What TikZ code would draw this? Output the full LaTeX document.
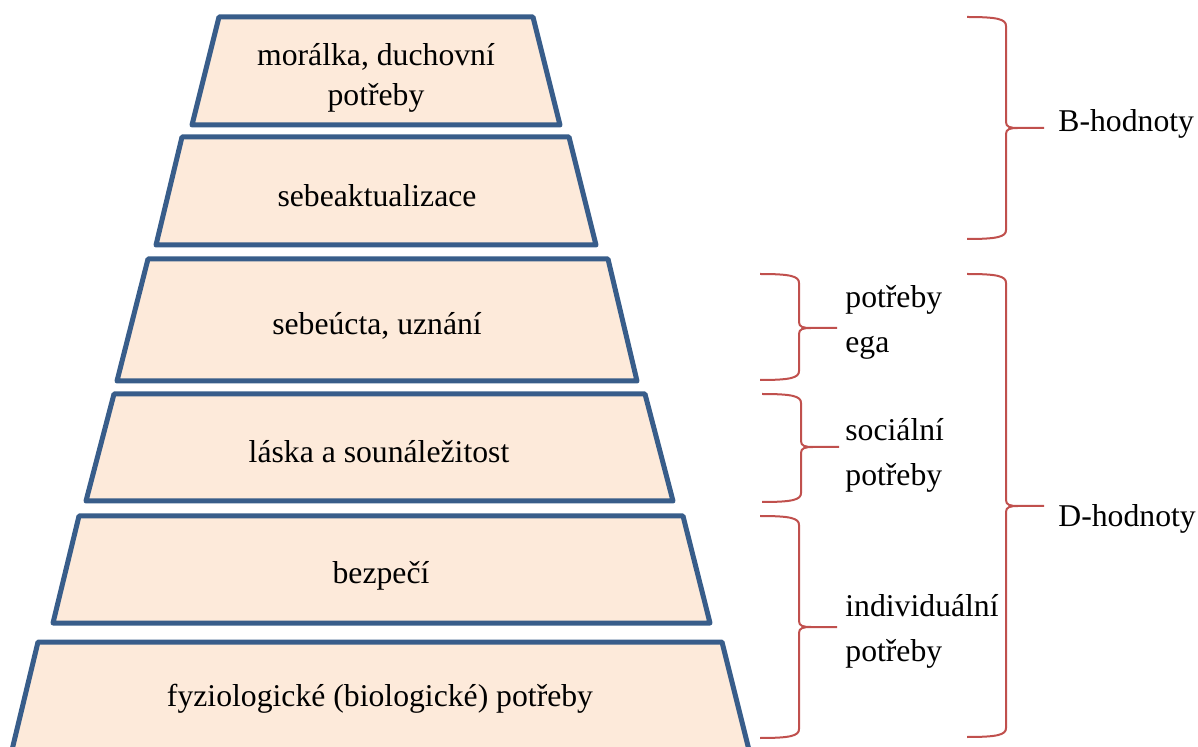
\documentclass[tikz,border=0pt]{standalone}
\usepackage{fontspec}
\setmainfont{Liberation Serif}
\definecolor{lvlfill}{HTML}{FDEADA}
\definecolor{lvldraw}{HTML}{385D8A}
\definecolor{brcred}{HTML}{C0504D}
\tikzset{
  level/.style={draw=lvldraw, fill=lvlfill, line width=2.5pt, line join=round},
  brc/.style={draw=brcred, line width=1pt},
  lbl/.style={font=\fontsize{15.85}{20}\selectfont, align=center, inner sep=0pt},
  side/.style={font=\fontsize{15.85}{22.5}\selectfont, align=left, anchor=west, inner sep=0pt}
}
% right brace: left end x, top y, tip y, bottom y
\newcommand{\rbrc}[4]{%
  \draw[brc] (#1,#2) .. controls (#1+30,#2) and (#1+39,#2+2) .. (#1+39,#2+9)
    -- (#1+39,#3-6) .. controls (#1+39,#3-1) and (#1+43,#3) .. (#1+51,#3) -- (#1+77,#3)
    -- (#1+51,#3) .. controls (#1+43,#3) and (#1+39,#3+1) .. (#1+39,#3+6)
    -- (#1+39,#4-9) .. controls (#1+39,#4-2) and (#1+30,#4) .. (#1,#4);}
\begin{document}
\begin{tikzpicture}[x=0.5pt, y=-0.5pt]
\useasboundingbox (0,0) rectangle (1198,747);
% pyramid levels
\draw[level] (219,17) -- (533,17) -- (560,125) -- (192,125) -- cycle;
\draw[level] (182,137) -- (569,137) -- (596,245) -- (156,245) -- cycle;
\draw[level] (148,259) -- (608,259) -- (637,381) -- (117,381) -- cycle;
\draw[level] (114,394) -- (645,394) -- (673,501) -- (86,501) -- cycle;
\draw[level] (79,516) -- (683,516) -- (710,623) -- (53,623) -- cycle;
\draw[level] (38,642) -- (722,642) -- (749,750) -- (12,750) -- cycle;
\node[lbl] (moral) at (376,78) {morálka, duchovní\\potřeby};
\node[lbl] (self) at (377,196) {sebeaktualizace};
\node[lbl] (esteem) at (377,326) {sebeúcta, uznání};
\node[lbl] (love) at (379,452) {láska a sounáležitost};
\node[lbl] (safe) at (381,576) {bezpečí};
\node[lbl] (phys) at (380,699) {fyziologické (biologické) potřeby};
% braces
\rbrc{760}{274}{328}{380}
\rbrc{762}{394}{447}{502}
\rbrc{760}{516}{627}{738}
\rbrc{967}{17}{128}{239}
\rbrc{967}{274}{506}{737}
\node[side] (ego) at (845,322) {potřeby\\ega};
\node[side] (soc) at (845,455) {sociální\\potřeby};
\node[side] (ind) at (845,631) {individuální\\potřeby};
\node[side] (bval) at (1058,124) {B-hodnoty};
\node[side] (dval) at (1058,519) {D-hodnoty};
\end{tikzpicture}
\end{document}
